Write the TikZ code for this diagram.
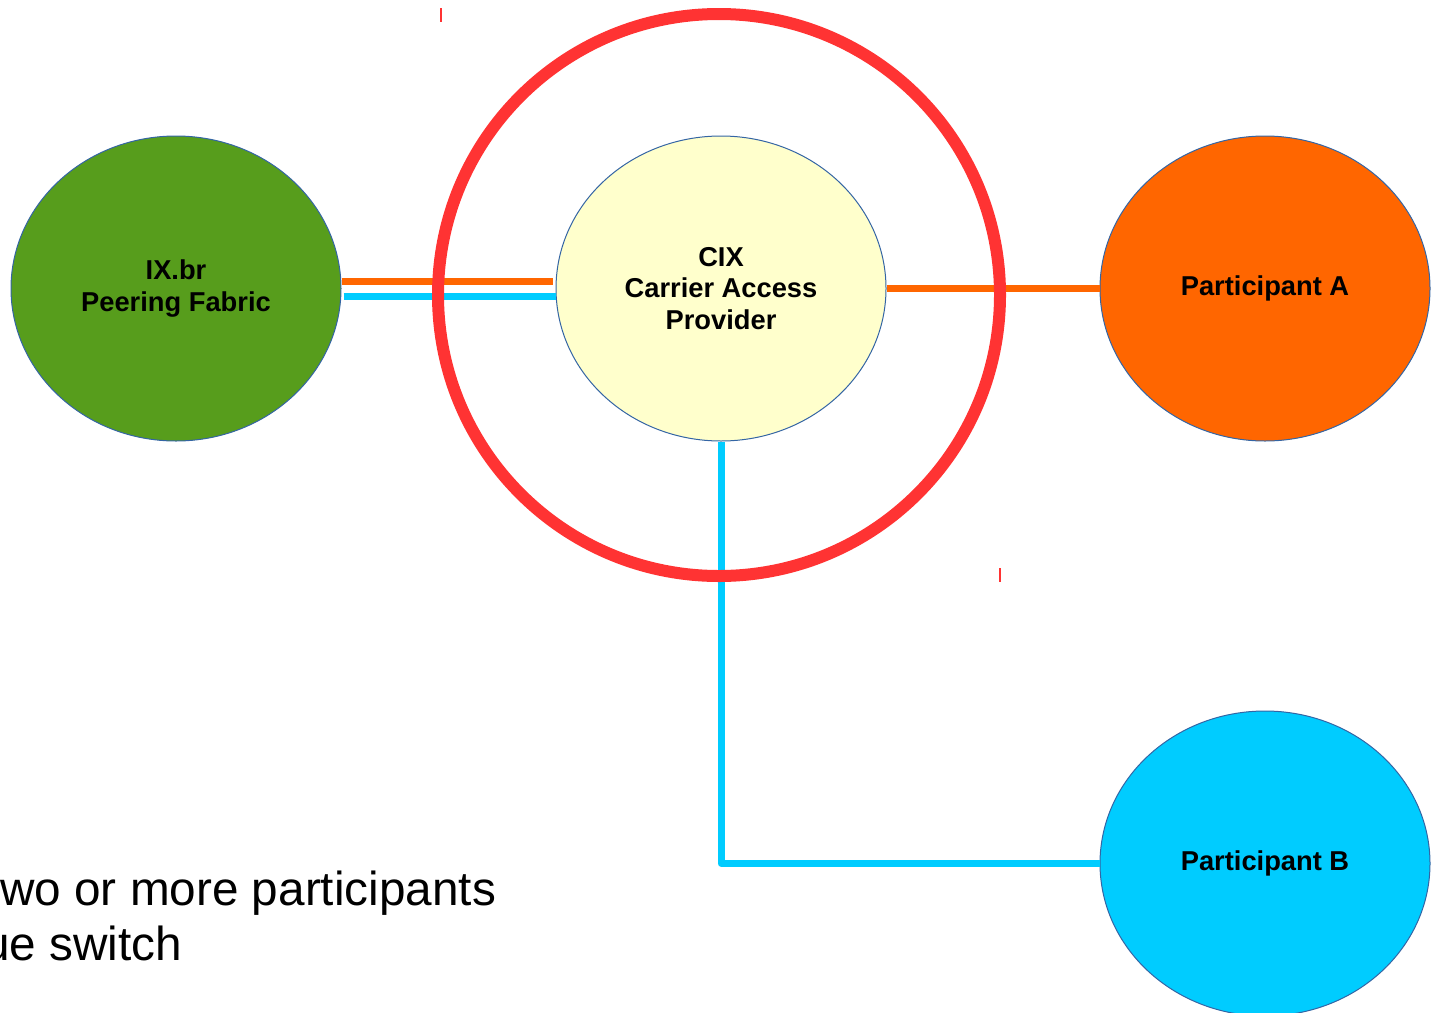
\documentclass[tikz,border=0pt]{standalone}
\usepackage{fontspec}
\setmainfont{Liberation Sans}
\usetikzlibrary{shapes.geometric,calc}

\definecolor{fabricgreen}{HTML}{579D1C}
\definecolor{cixyellow}{HTML}{FFFFCC}
\definecolor{partorange}{HTML}{FF6600}
\definecolor{partblue}{HTML}{00CCFF}
\definecolor{ringred}{HTML}{FF3333}
\definecolor{edgeblue}{HTML}{3465A4}

\begin{document}
\begin{tikzpicture}[x=1pt,y=-1pt,
  site/.style={ellipse,draw=edgeblue,line width=1pt,minimum width=330pt,minimum height=305pt,inner sep=0pt,align=center,font=\bfseries\fontsize{27.3}{31.5}\selectfont},
  orangelink/.style={partorange,line width=7pt},
  bluelink/.style={partblue,line width=7pt,line join=round},
  ring/.style={ringred,line width=12pt},
  marktick/.style={ringred,line width=2pt},
  notetext/.style={anchor=base west,inner sep=0pt,font=\fontsize{47.7}{55}\selectfont}]
\useasboundingbox (0,0) rectangle (1439,1012);
% the four sites
\node[site,fill=fabricgreen] (fabric) at (176,288.5) {IX.br\\Peering Fabric};
\node[site,fill=cixyellow] (cix) at (721,288.5) {CIX\\Carrier Access\\Provider};
\node[site,fill=partorange] (partA) at (1265,288.5) {Participant A};
\node[site,fill=partblue] (partB) at (1265,863.5) {Participant B};
% links
\draw[orangelink] ($(fabric.east)+(0,-7.5)$) -- ($(cix.west)+(-3,-7.5)$);
\draw[bluelink] ($(fabric.east)+(2,7.5)$) -- ($(cix.west)+(0,7.5)$);
\draw[orangelink] (cix.east) -- (partA.west);
\draw[bluelink] (cix.south) -- (cix.south |- partB.west) -- (partB.west);
% carrier ring
\draw[ring] (719,295) circle[radius=281pt];
\draw[marktick] (440.5,8) -- (440.5,22);
\draw[marktick] (1000,568) -- (1000,582);
% note, cut at the left edge
\node[notetext] (note1) at (0,905) {wo or more participants};
\node[notetext] (note2) at (-17,960) {ue switch};
\end{tikzpicture}
\end{document}
